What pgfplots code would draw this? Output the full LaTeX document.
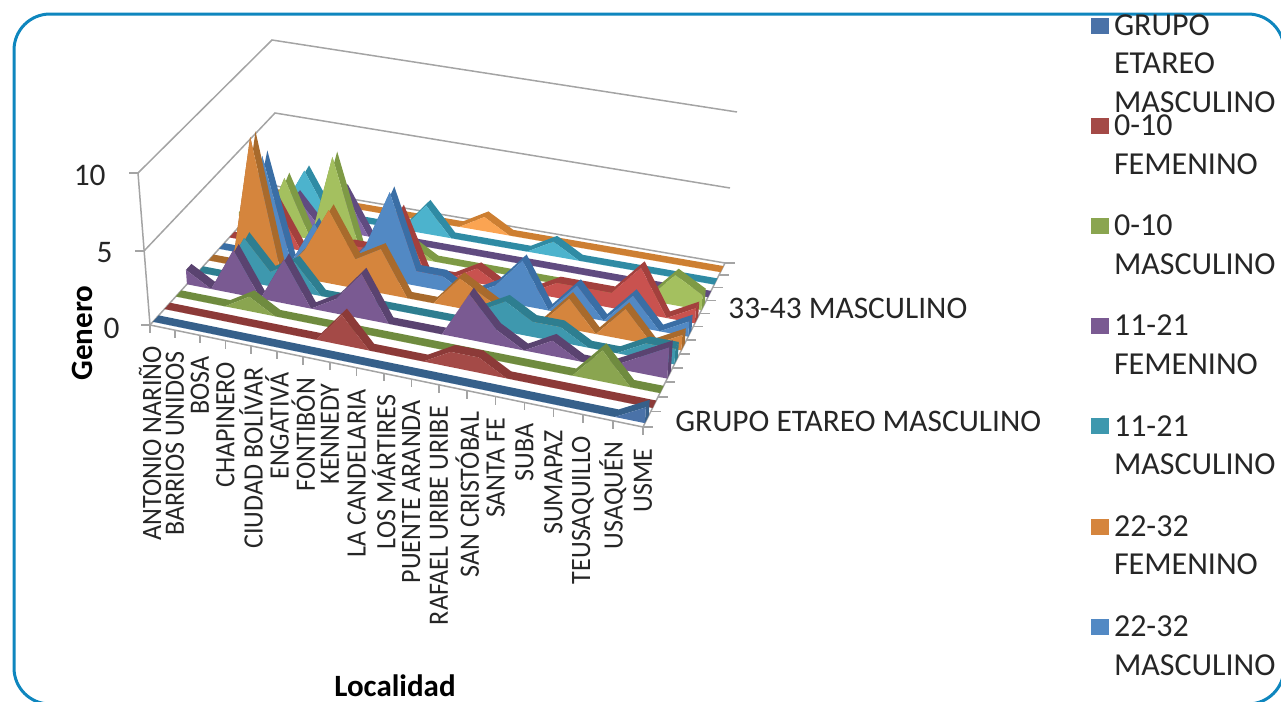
\documentclass[border=0pt]{standalone}
\usepackage{fontspec}
\setmainfont{Carlito}
\usepackage{pgfplots}
\usepackage{pgfplotstable}
\pgfplotsset{compat=1.18}

% perspective of the Excel 3D box: u along Localidad, v in depth, w up (all 0..1), result in pixels
\tikzset{declare function={
  pD(\u,\v,\w)=1-0.09802*\u+0.1159*\v-0.04*\w;
  pX(\u,\v,\w)=(429.97*\u+157.99*\v+150-17.5*\w)/pD(\u,\v,\w);
  pY(\u,\v,\w)=(60.15*\u-117.44*\v+325-158.9*\w)/pD(\u,\v,\w);
}}

% s0 = GRUPO ETAREO MASCULINO, s1 = 0-10 FEM, s2 = 0-10 MASC ... s8 = 33-43 MASC ...
\pgfplotstableread{
loc s0 s1 s2 s3 s4 s5 s6 s7 s8 s9 s10 s11
0   0  0  0  1  0  0  0  0  1  0  0   0
1   0  0  0  0  0  0  0  0  0  0  0   0
2   0  0  0  3  3  9  7  3  4  2  3   0
3   0  0  1  0  1  0  0  0  0  0  0   0
4   0  0  0  3  2  2  3  0  6  3  0   0
5   0  0  0  0  0  5  0  1  0  0  0   0
6   0  0  0  1  0  2  2  1  0  0  0   0
7   0  2  0  3  0  3  6  4  1  0  2   0
8   0  0  0  0  0  0  1  0  0  0  0   0
9   0  0  0  0  0  0  1  0  0  0  0   1
10  0  0  0  0  0  2  0  1  0  0  0   0
11  0  1  0  3  1  1  1  0  0  0  0   0
12  0  1  0  1  2  0  3  0  0  0  1   0
13  0  0  0  0  1  0  0  1  0  0  0   0
14  0  0  0  1  1  2  2  1  0  0  0   0
15  0  0  0  0  0  0  0  1  0  0  0   0
16  0  0  2  0  0  2  2  3  0  0  0   0
17  0  0  0  1  1  0  0  0  2  0  0   0
18  1  0  0  2  1  1  1  1  1  0  0   0
}\data
% two closing rows on the floor for the front faces
\pgfplotstableread{
loc s0 s1 s2 s3 s4 s5 s6 s7 s8 s9 s10 s11
18  0  0  0  0  0  0  0  0  0  0  0   0
0   0  0  0  0  0  0  0  0  0  0  0   0
}\floorrows
\pgfplotstableread{
b h
0 0
0 1
1 1
1 0
}\capshape
\pgfplotstablevertcat{\front}{\data}
\pgfplotstablevertcat{\front}{\floorrows}
\pgfplotstablesort[sort key=loc,sort cmp=float >]{\rev}{\data}
\pgfplotstablevertcat{\ribbon}{\data}
\pgfplotstablevertcat{\ribbon}{\rev}

\definecolor{frame}{HTML}{0E86BE}
\definecolor{wall}{HTML}{A4A4A4}
\definecolor{f0}{HTML}{4A72A8}  \definecolor{t0}{HTML}{36608A}
\definecolor{f1}{HTML}{A44A47}  \definecolor{t1}{HTML}{8C3A38}
\definecolor{f2}{HTML}{8AA550}  \definecolor{t2}{HTML}{6F8B3F}
\definecolor{f3}{HTML}{7A5A92}  \definecolor{t3}{HTML}{5A4370}
\definecolor{f4}{HTML}{3E98AE}  \definecolor{t4}{HTML}{2E7E90}
\definecolor{f5}{HTML}{D5853D}  \definecolor{t5}{HTML}{A86A2C}
\definecolor{f6}{HTML}{5289C4}  \definecolor{t6}{HTML}{3A6EA5}
\definecolor{f7}{HTML}{C9524F}  \definecolor{t7}{HTML}{A3403D}
\definecolor{f8}{HTML}{A4C05F}  \definecolor{t8}{HTML}{7E9A45}
\definecolor{f9}{HTML}{8468A6}  \definecolor{t9}{HTML}{604B80}
\definecolor{f10}{HTML}{4CB3CD} \definecolor{t10}{HTML}{2F8BA4}
\definecolor{f11}{HTML}{FBA452} \definecolor{t11}{HTML}{CD7F32}

% #1 column, #2 slot
\newcommand\series[2]{%
  \addplot[forget plot,fill=t#2,draw=none] table[
    x expr={pX(\thisrow{loc}/18,(#2+(\coordindex<19?0.25:0.75))/12,\thisrow{#1}/10)},
    y expr={pY(\thisrow{loc}/18,(#2+(\coordindex<19?0.25:0.75))/12,\thisrow{#1}/10)}]{\ribbon};
  \pgfplotstablegetelem{18}{#1}\of\data
  \let\zz\pgfplotsretval
  \addplot[forget plot,fill=t#2,draw=none] table[
    x expr={pX(1,(#2+0.25+0.5*\thisrow{b})/12,\thisrow{h}*\zz/10)},
    y expr={pY(1,(#2+0.25+0.5*\thisrow{b})/12,\thisrow{h}*\zz/10)}]{\capshape};
  \addplot[forget plot,fill=f#2,draw=none] table[
    x expr={pX(\thisrow{loc}/18,(#2+0.25)/12,\thisrow{#1}/10)},
    y expr={pY(\thisrow{loc}/18,(#2+0.25)/12,\thisrow{#1}/10)}]{\front};
}
\newcommand\xlab[2]{\node[rotate=90,anchor=east,inner sep=0pt,font=\fontsize{14}{14}\selectfont,text=black!85]
  at (axis cs:{pX(#1/18,0,0)},{pY(#1/18,0,0)+21}) {\scalebox{.93}[1]{#2}};}
\newcommand\legtext[1]{\rule{0pt}{48.6pt}\hspace*{2.5pt}\smash{\raisebox{18.7pt}{\parbox[t]{85pt}{\fontsize{16}{19.3}\selectfont\raggedright #1}}}}

\begin{document}
\begin{tikzpicture}
\path[use as bounding box] (0,0) rectangle (640.5pt,351pt);
\begin{axis}[
  at={(0,0)}, anchor=south west,
  scale only axis, width=640.5pt, height=351pt,
  xmin=0, xmax=1281, ymin=0, ymax=702, y dir=reverse,
  hide axis,
  font=\fontsize{15.7}{18}\selectfont,
  legend image code/.code={\fill[#1,draw=none] (0pt,-4pt) rectangle (9pt,4pt);},
  legend cell align=left,
  legend style={at={(0.8517,1.035)},anchor=north west,draw=none,fill=none,
    inner sep=0pt,outer sep=0pt,row sep=0pt,
    nodes={inner sep=0pt,outer sep=0pt},text=black!85},
]
  \draw[frame,line width=1.5pt,rounded corners=18pt] (axis cs:14,14) -- (axis cs:1284,14)
    -- (axis cs:1284,704) -- (axis cs:14,704) -- cycle;

  % walls and floor edges
  \addplot[forget plot,wall,line width=0.75pt] coordinates {(138,173) (272,40) (737,112)};
  \addplot[forget plot,wall,line width=0.75pt] coordinates {(144,251) (275,113) (730,188)};
  \addplot[forget plot,wall,line width=0.75pt] coordinates {(150,325) (276,186) (725,263)};
  \addplot[forget plot,wall,line width=0.75pt] coordinates {(138,173) (150,325) (643,427) (725,263)};
  \pgfplotsinvokeforeach{0,...,18}{
    \draw[wall,line width=0.75pt] (axis cs:{pX(#1/18,0,0)},{pY(#1/18,0,0)}) -- ++(0,-4pt);}
  \pgfplotsinvokeforeach{0,...,12}{
    \draw[wall,line width=0.75pt] (axis cs:{pX(1,#1/12,0)},{pY(1,#1/12,0)}) -- ++(5pt,0);}
  \draw[wall,line width=0.75pt] (axis cs:138,173) -- ++(-4.5pt,0);
  \draw[wall,line width=0.75pt] (axis cs:144,251) -- ++(-4.5pt,0);
  \draw[wall,line width=0.75pt] (axis cs:150,325) -- ++(-4.5pt,0);

  % back to front
  \series{s11}{11}
  \series{s10}{10}
  \series{s9}{9}
  \series{s8}{8}
  \series{s7}{7}
  \series{s6}{6}
  \series{s5}{5}
  \series{s4}{4}
  \series{s3}{3}
  \series{s2}{2}
  \series{s1}{1}
  \series{s0}{0}

  \addlegendimage{fill=f0}
  \addlegendentry{\legtext{GRUPO\\ETAREO\\MASCULINO}}
  \addlegendimage{fill=f1}
  \addlegendentry{\legtext{0-10\\FEMENINO}}
  \addlegendimage{fill=f2}
  \addlegendentry{\legtext{0-10\\MASCULINO}}
  \addlegendimage{fill=f3}
  \addlegendentry{\legtext{11-21\\FEMENINO}}
  \addlegendimage{fill=f4}
  \addlegendentry{\legtext{11-21\\MASCULINO}}
  \addlegendimage{fill=f5}
  \addlegendentry{\legtext{22-32\\FEMENINO}}
  \addlegendimage{fill=f6}
  \addlegendentry{\legtext{22-32\\MASCULINO}}

  \xlab{0}{ANTONIO NARIÑO}
  \xlab{1}{BARRIOS UNIDOS}
  \xlab{2}{BOSA}
  \xlab{3}{CHAPINERO}
  \xlab{4}{CIUDAD BOLÍVAR}
  \xlab{5}{ENGATIVÁ}
  \xlab{6}{FONTIBÓN}
  \xlab{7}{KENNEDY}
  \xlab{8}{LA CANDELARIA}
  \xlab{9}{LOS MÁRTIRES}
  \xlab{10}{PUENTE ARANDA}
  \xlab{11}{RAFAEL URIBE URIBE}
  \xlab{12}{SAN CRISTÓBAL}
  \xlab{13}{SANTA FE}
  \xlab{14}{SUBA}
  \xlab{15}{SUMAPAZ}
  \xlab{16}{TEUSAQUILLO}
  \xlab{17}{USAQUÉN}
  \xlab{18}{USME}

  \node[anchor=east,inner sep=0pt,text=black!85] at (axis cs:106,175) {10};
  \node[anchor=east,inner sep=0pt,text=black!85] at (axis cs:113,253) {5};
  \node[anchor=east,inner sep=0pt,text=black!85] at (axis cs:120,328) {0};
  \node[anchor=west,inner sep=0pt,text=black!85] at (axis cs:728,308) {33-43 MASCULINO};
  \node[anchor=west,inner sep=0pt,text=black!85] at (axis cs:675,421) {GRUPO ETAREO MASCULINO};
  \node[rotate=90,inner sep=0pt,font=\fontsize{15.5}{16}\bfseries\selectfont] at (axis cs:82,333) {Genero};
  \node[inner sep=0pt,font=\fontsize{15.5}{16}\bfseries\selectfont] at (axis cs:395,686) {Localidad};
\end{axis}
\end{tikzpicture}
\end{document}
